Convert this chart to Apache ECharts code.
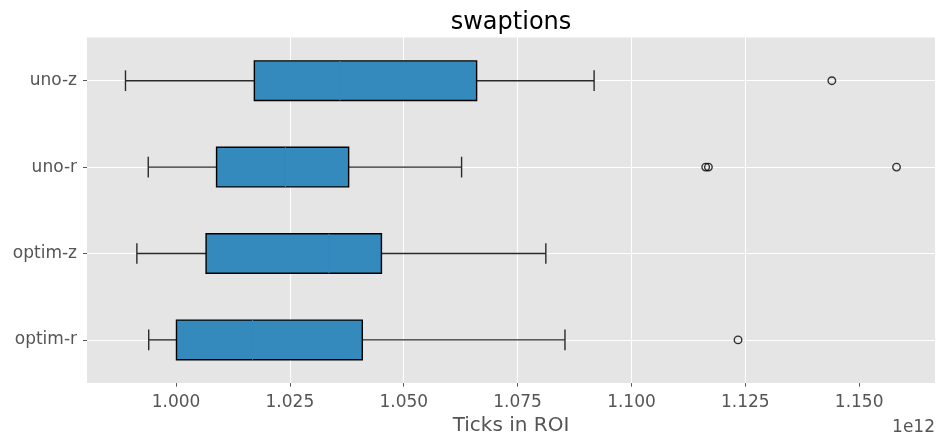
<!DOCTYPE html>
<html>
<head>
<meta charset="utf-8">
<script src="https://cdn.jsdelivr.net/npm/echarts@6/dist/echarts.min.js"></script>
<style>html,body{margin:0;padding:0;background:#fff}#c{width:940px;height:441px}</style>
</head>
<body>
<div id="c"></div>
<script>
// values in units of 1e12 ticks
const categories = ['optim-r', 'optim-z', 'uno-r', 'uno-z'];
const whiskerLow = [0.9940, 0.9914, 0.9939, 0.9889];
const q1 = [1.0001, 1.0066, 1.0089, 1.0172];
const median = [1.0168, 1.0336, 1.0240, 1.0360];
const q3 = [1.0409, 1.0451, 1.0379, 1.0660];
const whiskerHigh = [1.0854, 1.0812, 1.0627, 1.0918];
const outliers = [[1.1234], [], [1.1163, 1.1169, 1.1582], [1.1440]];
const xTicks = [1.000, 1.025, 1.050, 1.075, 1.100, 1.125, 1.150];
const xMin = 0.98045, xMax = 1.16665;

const FONT = 'DejaVu Sans';
const boxData = categories.map((c, i) => [i, whiskerLow[i], q1[i], median[i], q3[i], whiskerHigh[i]]);
const outlierData = [];
outliers.forEach((arr, i) => arr.forEach(v => outlierData.push([v, i])));

function renderBox(params, api) {
  const cat = api.value(0);
  const band = api.size([0, 1])[1];
  const half = band * 0.229;
  const capHalf = band * 0.12;
  const pLo = api.coord([api.value(1), cat]);
  const pQ1 = api.coord([api.value(2), cat]);
  const pMed = api.coord([api.value(3), cat]);
  const pQ3 = api.coord([api.value(4), cat]);
  const pHi = api.coord([api.value(5), cat]);
  const y = pQ1[1];
  const lineStyle = { stroke: '#2a2a2a', lineWidth: 1.4 };
  return {
    type: 'group',
    children: [
      { type: 'line', shape: { x1: pLo[0], y1: y, x2: pQ1[0], y2: y }, style: lineStyle },
      { type: 'line', shape: { x1: pQ3[0], y1: y, x2: pHi[0], y2: y }, style: lineStyle },
      { type: 'line', shape: { x1: pLo[0], y1: y - capHalf, x2: pLo[0], y2: y + capHalf }, style: lineStyle },
      { type: 'line', shape: { x1: pHi[0], y1: y - capHalf, x2: pHi[0], y2: y + capHalf }, style: lineStyle },
      { type: 'rect', shape: { x: pQ1[0], y: y - half, width: pQ3[0] - pQ1[0], height: 2 * half },
        style: { fill: '#348ABD', stroke: '#000', lineWidth: 1.4 } },
      { type: 'line', shape: { x1: pMed[0], y1: y - half, x2: pMed[0], y2: y + half },
        style: { stroke: '#3387bb', lineWidth: 1.2 } }
    ]
  };
}

const chart = echarts.init(document.getElementById('c'), null, { renderer: 'canvas' });
chart.setOption({
  backgroundColor: '#ffffff',
  animation: false,
  title: {
    text: 'swaptions', left: 511, top: 11, textAlign: 'center', padding: 0,
    textStyle: { fontFamily: FONT, fontSize: 24, fontWeight: 'normal', color: '#000' }
  },
  grid: { left: 87, right: 5, top: 37.5, bottom: 53, show: true, backgroundColor: '#E5E5E5', borderWidth: 0 },
  xAxis: {
    type: 'value', min: xMin, max: xMax, minInterval: 0.025, maxInterval: 0.025, splitNumber: 7,
    name: 'Ticks in ROI', nameLocation: 'middle', nameGap: 30,
    nameTextStyle: { fontFamily: FONT, fontSize: 20, color: '#555' },
    axisLine: { show: false },
    axisTick: { show: true, length: 3.5, customValues: xTicks, lineStyle: { color: '#555', width: 1 } },
    axisLabel: { customValues: xTicks, margin: 11, fontFamily: FONT, fontSize: 17, color: '#555',
      formatter: v => v.toFixed(3) },
    splitLine: { show: true, showMinLine: false, showMaxLine: false, lineStyle: { color: '#fff', width: 1.1 } }
  },
  yAxis: {
    type: 'category', data: categories, boundaryGap: true,
    axisLine: { show: false },
    axisTick: { show: true, alignWithLabel: true, length: 4, lineStyle: { color: '#555', width: 1 } },
    axisLabel: { margin: 10, fontFamily: FONT, fontSize: 17, color: '#555' },
    splitLine: { show: true, alignWithLabel: true, lineStyle: { color: '#fff', width: 1.1 } }
  },
  graphic: [{
    type: 'text', right: 5, top: 419,
    style: { text: '1e12', fontFamily: FONT, fontSize: 17, fill: '#555' }
  }],
  series: [
    {
      type: 'custom', renderItem: renderBox, data: boxData,
      encode: { x: [1, 2, 3, 4, 5], y: 0 }, z: 2
    },
    {
      type: 'scatter', data: outlierData, symbol: 'circle', symbolSize: 7.5, z: 3,
      itemStyle: { color: 'rgba(0,0,0,0)', borderColor: '#000', borderWidth: 1.4 }
    }
  ]
});
</script>
</body>
</html>
